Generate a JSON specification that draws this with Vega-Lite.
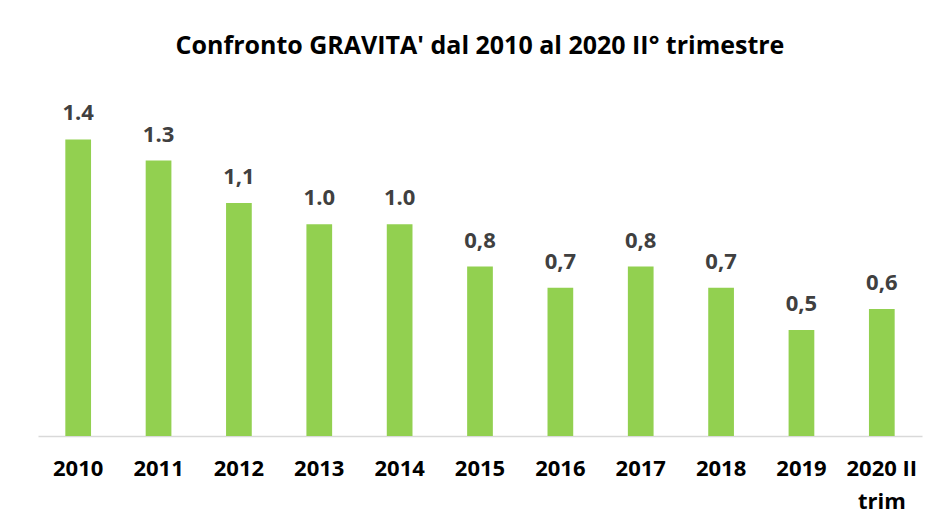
{
  "$schema": "https://vega.github.io/schema/vega-lite/v6.json",
  "width": 884,
  "height": 339,
  "autosize": {"type": "none"},
  "padding": {"left": 38, "top": 97, "right": 19, "bottom": 95},
  "background": "white",
  "title": {
    "text": "Confronto GRAVITA' dal 2010 al 2020 II° trimestre",
    "font": "Open Sans",
    "fontSize": 25,
    "fontWeight": "bold",
    "color": "#000000",
    "anchor": "middle",
    "offset": 38
  },
  "data": {
    "values": [
      {"anno": "2010", "valore": 1.4, "etichetta": "1.4"},
      {"anno": "2011", "valore": 1.3, "etichetta": "1.3"},
      {"anno": "2012", "valore": 1.1, "etichetta": "1,1"},
      {"anno": "2013", "valore": 1.0, "etichetta": "1.0"},
      {"anno": "2014", "valore": 1.0, "etichetta": "1.0"},
      {"anno": "2015", "valore": 0.8, "etichetta": "0,8"},
      {"anno": "2016", "valore": 0.7, "etichetta": "0,7"},
      {"anno": "2017", "valore": 0.8, "etichetta": "0,8"},
      {"anno": "2018", "valore": 0.7, "etichetta": "0,7"},
      {"anno": "2019", "valore": 0.5, "etichetta": "0,5"},
      {"anno": "2020 II trim", "valore": 0.6, "etichetta": "0,6"}
    ]
  },
  "config": {"view": {"stroke": null}},
  "encoding": {
    "x": {
      "field": "anno",
      "type": "nominal",
      "sort": null,
      "scale": {"paddingInner": 0.68, "paddingOuter": 0.34},
      "axis": {
        "title": null,
        "labelAngle": 0,
        "labelFont": "Open Sans",
        "labelFontSize": 22,
        "labelFontWeight": "bold",
        "labelColor": "#000000",
        "labelPadding": 22,
        "labelLineHeight": 33,
        "labelExpr": "datum.value == '2020 II trim' ? ['2020 II', 'trim'] : datum.value",
        "ticks": false,
        "domainColor": "#d9d9d9",
        "domainWidth": 1.5
      }
    },
    "y": {
      "field": "valore",
      "type": "quantitative",
      "scale": {"domain": [0, 1.6]},
      "axis": null
    }
  },
  "layer": [
    {"mark": {"type": "bar", "color": "#92D050"}},
    {
      "mark": {
        "type": "text",
        "baseline": "bottom",
        "dy": -14,
        "font": "Open Sans",
        "fontSize": 22,
        "fontWeight": "bold",
        "color": "#404040"
      },
      "encoding": {"text": {"field": "etichetta"}}
    }
  ]
}
